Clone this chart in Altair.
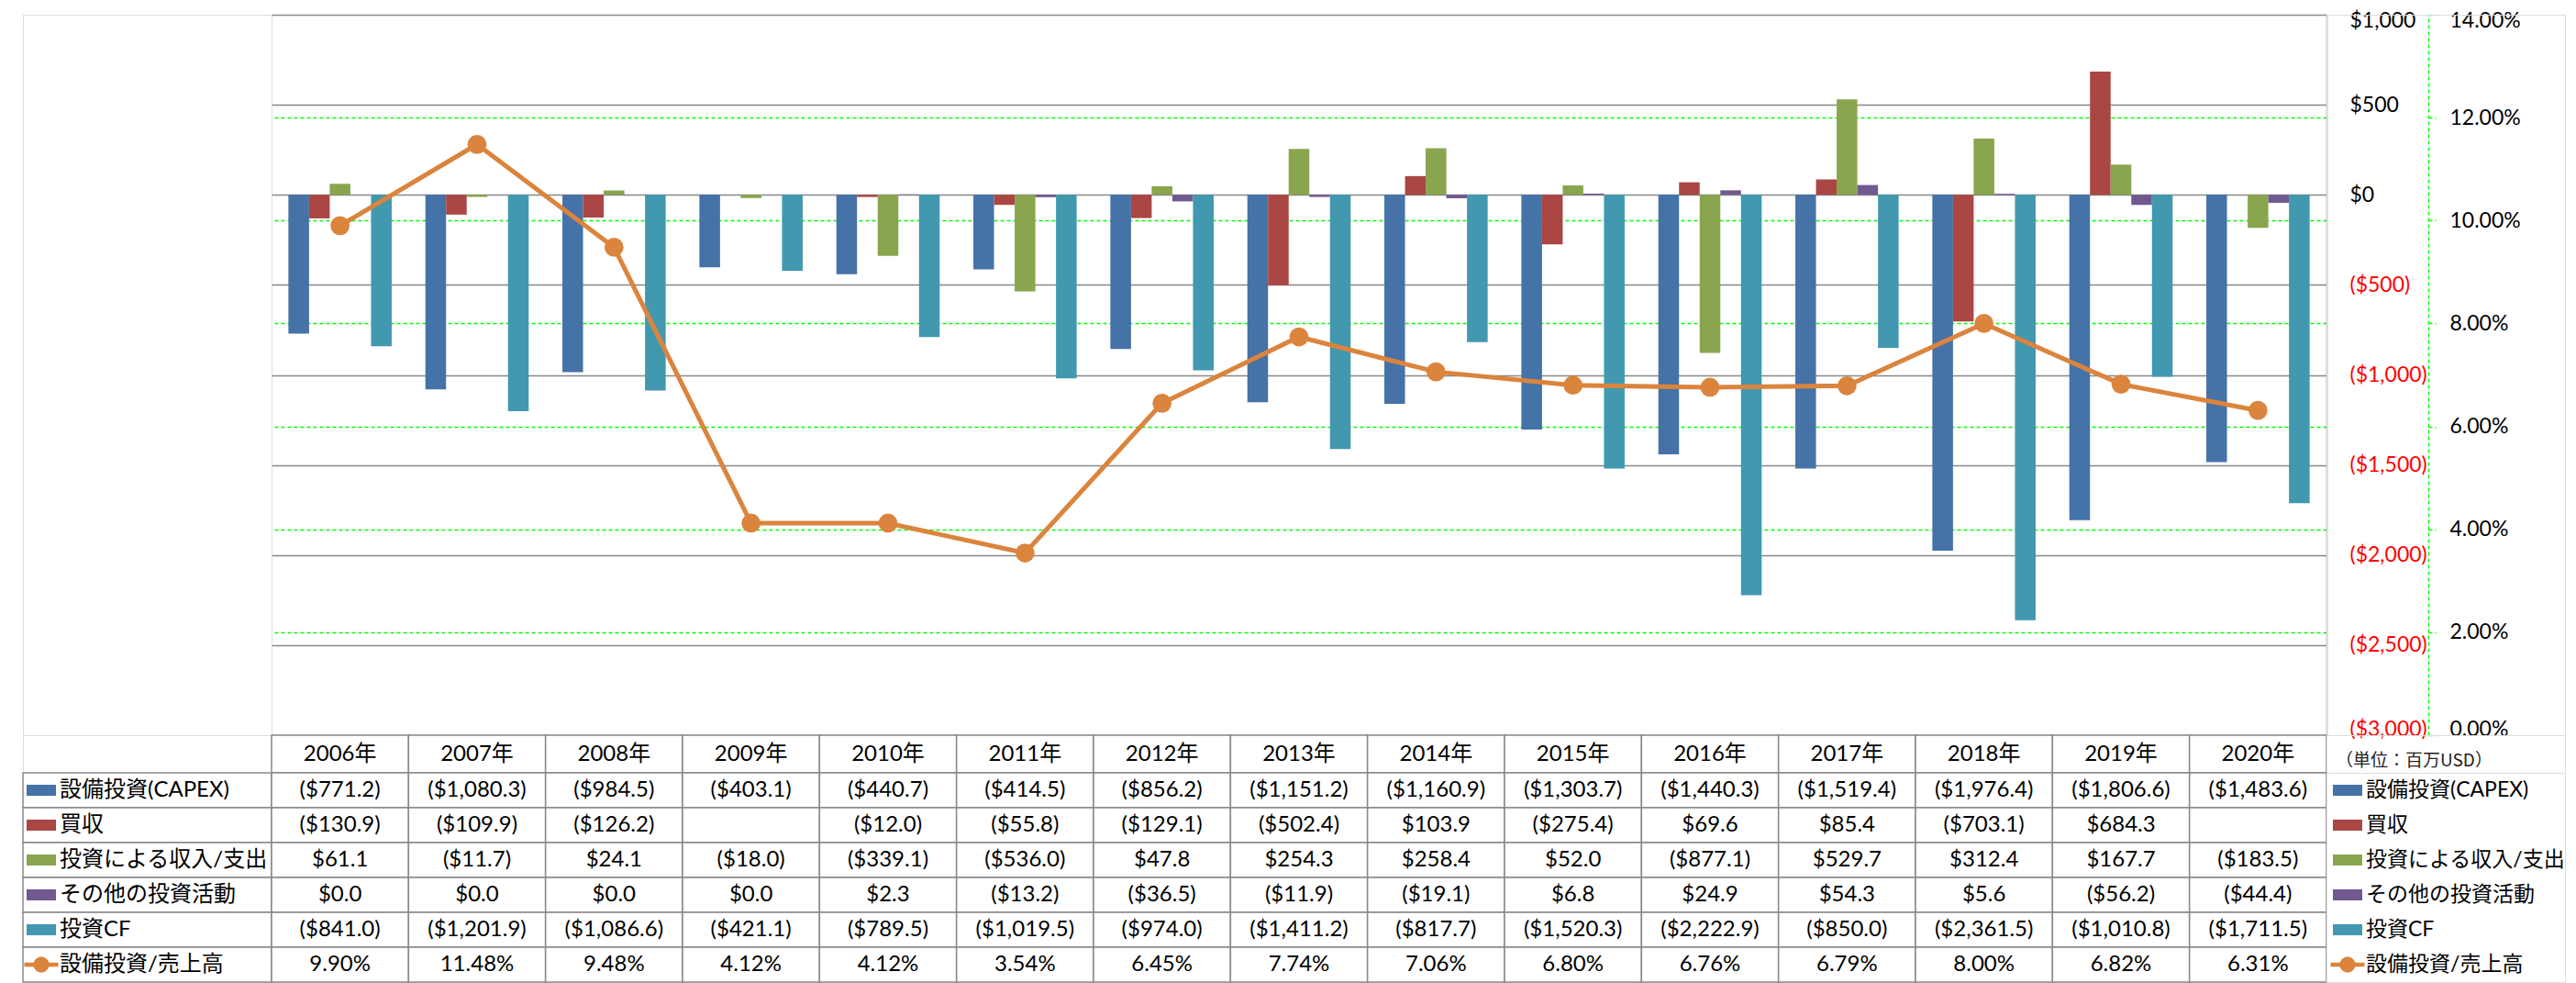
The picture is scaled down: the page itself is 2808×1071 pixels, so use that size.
import altair as alt
import pandas as pd

# ---------------- data ----------------
years = ["2006年", "2007年", "2008年", "2009年", "2010年", "2011年", "2012年", "2013年",
         "2014年", "2015年", "2016年", "2017年", "2018年", "2019年", "2020年"]
series = ["設備投資(CAPEX)", "買収", "投資による収入/支出", "その他の投資活動", "投資CF"]
ratio_name = "設備投資/売上高"

capex = [-771.2, -1080.3, -984.5, -403.1, -440.7, -414.5, -856.2, -1151.2, -1160.9,
         -1303.7, -1440.3, -1519.4, -1976.4, -1806.6, -1483.6]
acquisition = [-130.9, -109.9, -126.2, None, -12.0, -55.8, -129.1, -502.4, 103.9,
               -275.4, 69.6, 85.4, -703.1, 684.3, None]
invest_income = [61.1, -11.7, 24.1, -18.0, -339.1, -536.0, 47.8, 254.3, 258.4,
                 52.0, -877.1, 529.7, 312.4, 167.7, -183.5]
other_invest = [0.0, 0.0, 0.0, 0.0, 2.3, -13.2, -36.5, -11.9, -19.1,
                6.8, 24.9, 54.3, 5.6, -56.2, -44.4]
invest_cf = [-841.0, -1201.9, -1086.6, -421.1, -789.5, -1019.5, -974.0, -1411.2, -817.7,
             -1520.3, -2222.9, -850.0, -2361.5, -1010.8, -1711.5]
capex_ratio = [9.90, 11.48, 9.48, 4.12, 4.12, 3.54, 6.45, 7.74, 7.06,
               6.80, 6.76, 6.79, 8.00, 6.82, 6.31]

dollar_ticks = [-3000, -2500, -2000, -1500, -1000, -500, 0, 500, 1000]
pct_ticks = [0, 2, 4, 6, 8, 10, 12, 14]
unit_text = ["（単位：百万USD）"]

# ---------------- style ----------------
bar_colors = ["#4572A7", "#AA4643", "#89A54E", "#71588F", "#4198AF"]
line_color = "#DB843D"
GRID = "#888888"
GREEN = "#00FF00"
FONT = "Lato, 'Noto Sans CJK JP', sans-serif"
FS_AXIS = 23
FS = 24
FS_LEG = 23

series_values = [capex, acquisition, invest_income, other_invest, invest_cf]
rows = series + [ratio_name]

bar_records = []
for s, vals in zip(series, series_values):
    for y, v in zip(years, vals):
        if v is not None:
            bar_records.append({"year": y, "series": s, "value": v})
bars_df = pd.DataFrame(bar_records)
line_df = pd.DataFrame({"year": years, "pct": capex_ratio})

table_records = []
for s, vals in zip(rows, series_values + [capex_ratio]):
    for y, v in zip(years, vals):
        table_records.append({"row": s, "year": y, "v": v,
                              "kind": "line" if s == ratio_name else "bar"})
table_df = pd.DataFrame(table_records)
rows_df = pd.DataFrame({"row": rows, "kind": ["bar"] * 5 + ["line"]})

W_LABEL, W_PLOT, W_LEG = 271, 2240, 260
H_PLOT, H_HEAD, H_BODY = 785, 41, 228

# ---------------- main plot ----------------
x_main = alt.X("year:N", sort=years, axis=None,
               scale=alt.Scale(paddingInner=0.246, paddingOuter=0.123))

bars = alt.Chart(bars_df).mark_bar().encode(
    x=x_main,
    xOffset=alt.XOffset("series:N", sort=series,
                        scale=alt.Scale(paddingInner=0, paddingOuter=0)),
    y=alt.Y("value:Q",
            scale=alt.Scale(domain=[-3000, 1000], nice=False),
            axis=alt.Axis(orient="right", values=dollar_ticks, title=None,
                          ticks=False, labelPadding=25, labelAlign="left",
                          labelFlush=True, labelFlushOffset=5,
                          labelExpr="datum.value < 0 ? '($' + format(-datum.value, ',') + ')' : '$' + format(datum.value, ',')",
                          labelColor={"condition": {"test": "datum.value < 0", "value": "#FF0000"},
                                      "value": "#000000"},
                          labelFont=FONT, labelFontSize=FS_AXIS,
                          domainColor=GRID, domainWidth=1.5,
                          grid=True, gridColor=GRID, gridWidth=1.5)),
    color=alt.Color("series:N", sort=series,
                    scale=alt.Scale(domain=series, range=bar_colors), legend=None),
)

line = alt.Chart(line_df).mark_line(
    color=line_color, strokeWidth=5,
    point=alt.OverlayMarkDef(filled=True, size=430, color=line_color, opacity=1),
).encode(
    x=alt.X("year:N", sort=years, axis=None),
    y=alt.Y("pct:Q",
            scale=alt.Scale(domain=[0, 14], nice=False),
            axis=alt.Axis(orient="right", offset=111, values=pct_ticks, title=None,
                          labelExpr="format(datum.value, '.2f') + '%'",
                          tickSize=8, tickColor=GREEN, tickWidth=1.5, tickDash=[4, 3],
                          domainColor=GREEN, domainDash=[4, 3], domainWidth=1.5,
                          labelPadding=15, labelFont=FONT, labelFontSize=FS_AXIS,
                          labelColor="#000000",
                          labelFlush=True, labelFlushOffset=5,
                          grid=True,
                          gridColor={"condition": {"test": "datum.value < 0.5 || datum.value > 13.5",
                                                   "value": "transparent"},
                                     "value": GREEN},
                          gridDash=[4, 3], gridWidth=1.5)),
)

main = alt.layer(bars, line).resolve_scale(y="independent").properties(
    width=W_PLOT, height=H_PLOT)


def spacer(w, h):
    return alt.Chart(pd.DataFrame({"a": [0]})).mark_point(opacity=0).encode(
        x=alt.value(0), y=alt.value(0)).properties(width=w, height=h)


# ---------------- table ----------------
hx = alt.X("year:N", sort=years, axis=None,
           scale=alt.Scale(paddingInner=0, paddingOuter=0))
hy = alt.Y("row:N", sort=rows, axis=None,
           scale=alt.Scale(paddingInner=0, paddingOuter=0))

head_base = alt.Chart(pd.DataFrame({"year": years}))
header_chart = alt.layer(
    head_base.mark_rect(fill="white", stroke=GRID, strokeWidth=1.5).encode(x=hx),
    head_base.mark_text(font=FONT, fontSize=FS, color="#000000").encode(x=hx, text="year:N"),
).properties(width=W_PLOT, height=H_HEAD)

unit_chart = alt.Chart(pd.DataFrame({"t": unit_text})).mark_text(
    font="'Noto Sans CJK JP'", fontSize=19, color="#222222", align="left", baseline="middle"
).encode(x=alt.value(10), y=alt.value(28), text="t:N").properties(width=W_LEG, height=H_HEAD)

label_expr = ("datum.kind == 'line' ? format(datum.v, '.2f') + '%' : "
              "(datum.v < 0 ? '($' + format(-datum.v, ',.1f') + ')' : '$' + format(datum.v, ',.1f'))")

body_chart = alt.layer(
    alt.Chart(table_df).mark_rect(fill="white", stroke=GRID, strokeWidth=1.5).encode(x=hx, y=hy),
    alt.Chart(table_df).transform_filter("isValid(datum.v)").transform_calculate(
        label=label_expr).mark_text(font=FONT, fontSize=FS, color="#000000").encode(
        x=hx, y=hy, text="label:N"),
).properties(width=W_PLOT, height=H_BODY)

BAR_SW = "M-1.6,-0.6H1.6V0.6H-1.6Z"
LINE_SW = "M-1.85,-0.22H1.85V0.22H-1.85Z"
row_color = alt.Color("row:N", sort=rows,
                      scale=alt.Scale(domain=rows, range=bar_colors + [line_color]),
                      legend=None)


def swatches(cx):
    base = alt.Chart(rows_df)
    sw_bar = base.transform_filter("datum.kind == 'bar'").mark_point(
        shape=BAR_SW, size=400, filled=True, opacity=1, strokeWidth=0).encode(
        x=alt.value(cx), y=hy, color=row_color)
    sw_line = base.transform_filter("datum.kind == 'line'").mark_point(
        shape=LINE_SW, size=400, filled=True, opacity=1, strokeWidth=0).encode(
        x=alt.value(cx), y=hy, color=row_color)
    sw_circ = base.transform_filter("datum.kind == 'line'").mark_point(
        shape="circle", size=300, filled=True, opacity=1, strokeWidth=0).encode(
        x=alt.value(cx), y=hy, color=row_color)
    return [sw_bar, sw_line, sw_circ]


def row_text(tx, fs):
    return alt.Chart(rows_df).mark_text(
        font=FONT, fontSize=fs, color="#000000", align="left", baseline="middle").encode(
        x=alt.value(tx), y=hy, text="row:N")


labels_chart = alt.layer(
    alt.Chart(rows_df).mark_rect(fill="white", stroke=GRID, strokeWidth=1.5).encode(y=hy),
    *swatches(20), row_text(40, FS),
).properties(width=W_LABEL, height=H_BODY)

legend_chart = alt.layer(*swatches(23), row_text(43, FS_LEG)).properties(
    width=W_LEG, height=H_BODY)

chart = alt.concat(
    spacer(W_LABEL, H_PLOT), main, spacer(W_LEG, H_PLOT),
    spacer(W_LABEL, H_HEAD), header_chart, unit_chart,
    labels_chart, body_chart, legend_chart,
    columns=3, spacing=0, bounds="flush",
).resolve_scale(
    x="independent", y="independent", color="independent"
).properties(
    padding={"left": 13, "top": 2, "right": 0, "bottom": 0}
).configure_view(stroke="transparent").configure(font=FONT)

chart.save("out.html", embed_options={"renderer": "svg", "actions": False})
